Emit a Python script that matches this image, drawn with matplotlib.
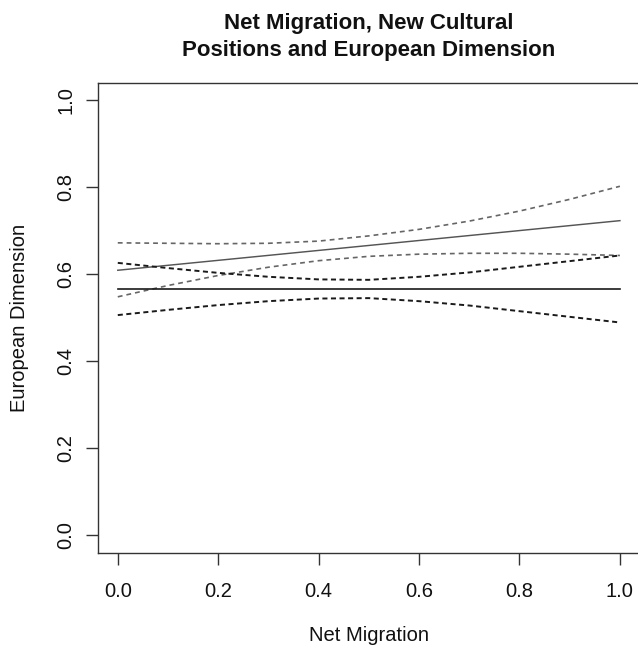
import matplotlib
matplotlib.use("Agg")
import matplotlib.pyplot as plt

plt.rcParams['font.family'] = ['Liberation Sans', 'DejaVu Sans']

# ---- data ----
title = "Net Migration, New Cultural\nPositions and European Dimension"
xlabel = "Net Migration"
ylabel = "European Dimension"
tick_vals = [0.0, 0.2, 0.4, 0.6, 0.8, 1.0]
tick_labels = ["0.0", "0.2", "0.4", "0.6", "0.8", "1.0"]

x_ends = [0.0, 1.0]
gray_fit = [0.609, 0.723]
black_fit = [0.566, 0.566]

x_ci = [0.0, 0.1, 0.2, 0.3, 0.4, 0.5, 0.6, 0.7, 0.8, 0.9, 1.0]
gray_upper = [0.672, 0.671, 0.670, 0.671, 0.676, 0.688, 0.703, 0.722, 0.745, 0.772, 0.802]
gray_lower = [0.548, 0.574, 0.597, 0.616, 0.631, 0.641, 0.646, 0.648, 0.648, 0.646, 0.643]
black_upper = [0.626, 0.614, 0.603, 0.594, 0.588, 0.587, 0.594, 0.604, 0.617, 0.630, 0.643]
black_lower = [0.506, 0.518, 0.529, 0.538, 0.544, 0.545, 0.538, 0.528, 0.515, 0.502, 0.489]

# ---- figure ----
W, H = 638, 645
fig = plt.figure(figsize=(W / 100, H / 100), dpi=100)
left, right, top, bottom = 97.7, 640.0, 82.7, 552.7
ax = fig.add_axes([left / W, 1 - bottom / H, (right - left) / W, (bottom - top) / H])

ax.plot(x_ci, gray_upper, color="#666666", lw=1.2, ls=(0, (2.9, 2.4)))
ax.plot(x_ci, gray_lower, color="#666666", lw=1.2, ls=(0, (2.9, 2.4)))
ax.plot(x_ends, gray_fit, color="#555555", lw=1.05)
ax.plot(x_ci, black_upper, color="#1a1a1a", lw=1.4, ls=(0, (2.6, 1.8)))
ax.plot(x_ci, black_lower, color="#1a1a1a", lw=1.4, ls=(0, (2.6, 1.8)))
ax.plot(x_ends, black_fit, color="#1a1a1a", lw=1.2)

ax.set_xlim(-0.04, 1.04)
ax.set_ylim(-0.04, 1.04)
ax.set_xticks(tick_vals)
ax.set_xticklabels(tick_labels)
ax.set_yticks(tick_vals)
ax.set_yticklabels(tick_labels, rotation=90, va="center")

for s in ax.spines.values():
    s.set_color("#333333")
    s.set_linewidth(1.0)

ax.tick_params(axis="both", direction="out", length=8.6, width=1.0,
               color="#333333", labelsize=14.5, labelcolor="#111111")
ax.tick_params(axis="x", pad=12.2)
ax.tick_params(axis="y", pad=7.6)

ax.set_xlabel(xlabel, fontsize=14.5, color="#111111", va="top")
ax.xaxis.set_label_coords(0.5, (bottom - 626.0) / (bottom - top))
ax.set_ylabel(ylabel, fontsize=14.5, color="#111111", va="center")
ax.yaxis.set_label_coords((19.5 - left) / (right - left), 0.5)

ax.text(0.5, (bottom - 13.0) / (bottom - top), title, transform=ax.transAxes,
        ha="center", va="top", fontsize=16, fontweight="bold",
        linespacing=1.35, color="#111111")

fig.savefig("out.png", dpi=100)
